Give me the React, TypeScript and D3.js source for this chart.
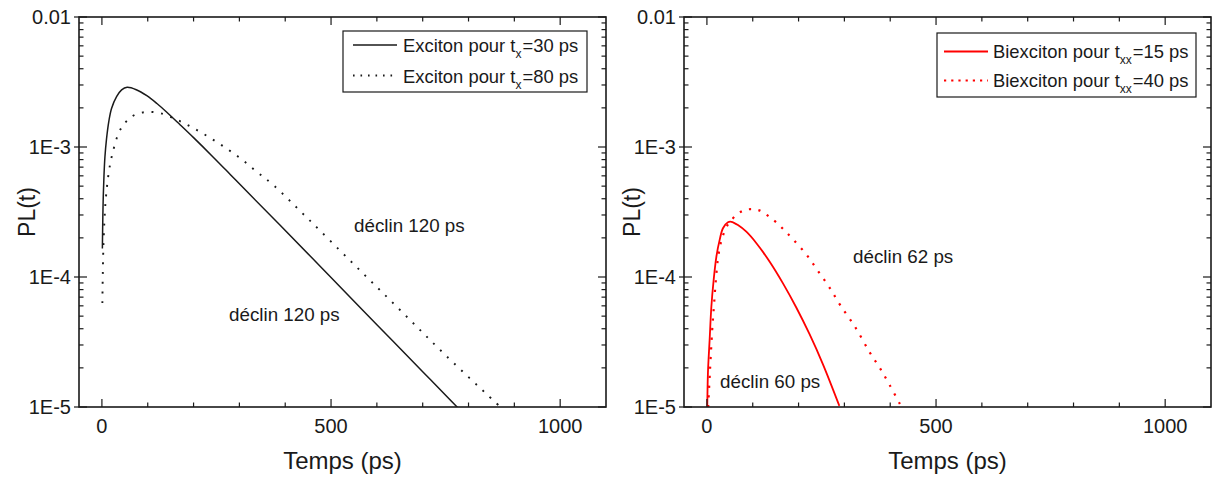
import React from 'react';
import * as d3 from 'd3';

// ---------- data ----------
const xMajorTicks = [0, 500, 1000];
const xMinorTicks = [100, 200, 300, 400, 600, 700, 800, 900];
const yMajorTicks = [1e-2, 1e-3, 1e-4, 1e-5];
const yTickLabels = ['0.01', '1E-3', '1E-4', '1E-5'];

// Exciton, rise 30 ps (solid black)
const excitonT30Time = [1, 2, 3, 4.5, 6.5, 10, 15, 21, 32, 43, 55, 75, 98, 120, 141, 170, 200, 243, 280, 316, 389, 500, 600, 700, 775, 800];
const excitonT30PL = [1.66e-4, 2.9e-4, 4.2e-4, 6.0e-4, 8.3e-4, 1.15e-3, 1.57e-3, 1.98e-3, 2.44e-3, 2.75e-3, 2.88e-3, 2.76e-3, 2.48e-3, 2.16e-3, 1.86e-3, 1.49e-3, 1.18e-3, 8.35e-4, 6.15e-4, 4.56e-4, 2.5e-4, 9.9e-5, 4.3e-5, 1.87e-5, 1.0e-5, 8.1e-6];

// Exciton, rise 80 ps (dotted black)
const excitonT80Time = [1, 2, 3, 5, 8, 12, 18, 25, 35, 45, 57, 72, 98, 127, 162, 196, 232, 269, 305, 338, 374, 450, 550, 650, 750, 875];
const excitonT80PL = [6.3e-5, 1.1e-4, 1.6e-4, 2.5e-4, 3.8e-4, 5.3e-4, 7.4e-4, 9.5e-4, 1.24e-3, 1.45e-3, 1.62e-3, 1.77e-3, 1.86e-3, 1.82e-3, 1.63e-3, 1.42e-3, 1.2e-3, 9.9e-4, 8.04e-4, 6.45e-4, 5.1e-4, 2.8e-4, 1.25e-4, 5.6e-5, 2.5e-5, 9.6e-6];

// Biexciton, 15 ps (solid red)
const biexT15Time = [0.5, 2.2, 5.9, 9.7, 14.7, 20.6, 27.8, 35, 45.9, 53.3, 67.7, 86, 108, 137, 166, 195, 224, 253, 289];
const biexT15PL = [8e-6, 1.82e-5, 3.27e-5, 5.91e-5, 9.48e-5, 1.43e-4, 1.93e-4, 2.37e-4, 2.64e-4, 2.66e-4, 2.51e-4, 2.23e-4, 1.82e-4, 1.31e-4, 8.93e-5, 5.83e-5, 3.63e-5, 2.14e-5, 1.02e-5];

// Biexciton, 40 ps (dotted red)
const biexT40Time = [2.7, 6.4, 11.5, 15.2, 19.5, 24.6, 32, 41.4, 50, 64.7, 79, 97.6, 115.6, 133.6, 152, 170, 188, 217.6, 242.6, 268.6, 290.6, 323, 355.6, 377.6, 398.6, 424.6];
const biexT40PL = [1.0e-5, 1.82e-5, 3.91e-5, 5.91e-5, 9.48e-5, 1.43e-4, 1.93e-4, 2.37e-4, 2.66e-4, 3.0e-4, 3.24e-4, 3.33e-4, 3.24e-4, 2.95e-4, 2.62e-4, 2.27e-4, 1.95e-4, 1.48e-4, 1.11e-4, 8.18e-5, 6.1e-5, 4.15e-5, 2.62e-5, 1.99e-5, 1.48e-5, 1.0e-5];

const xDomain = [-50, 1100];
const yDomain = [1e-5, 1e-2];

const FONT = '"Liberation Sans", Arial, Helvetica, sans-serif';
const INK = '#1a1a1a';
const RED = '#ff0000';

type Series = { time: number[]; pl: number[]; color: string; dotted: boolean };
type Legend = { box: [number, number, number, number]; sample: [number, number]; textX: number; rows: { y: number; base: number; pre: string; sub: string; post: string }[] };
type Note = { x: number; y: number; text: string };

const zip = (t: number[], v: number[]): [number, number][] => t.map((d, i) => [d, v[i]]);

const Panel: React.FC<{ id: string; x0: number; x1: number; series: Series[]; legend: Legend; notes: Note[] }> = ({ id, x0, x1, series, legend, notes }) => {
  const top = 17;
  const bottom = 407;
  const xs = d3.scaleLinear().domain(xDomain).range([x0, x1]);
  const ys = d3.scaleLog().domain(yDomain).range([bottom, top]);
  const line = d3
    .line<[number, number]>()
    .x((d) => xs(d[0]))
    .y((d) => ys(d[1]))
    .curve(d3.curveCatmullRom.alpha(0.5));

  const yMinor: number[] = [];
  for (const dec of [1e-5, 1e-4, 1e-3]) for (let m = 2; m <= 9; m++) yMinor.push(dec * m);

  const MAJ = 8;
  const MIN = 4.5;
  return (
    <g>
      <defs>
        <clipPath id={`clip-${id}`}>
          <rect x={x0} y={top} width={x1 - x0} height={bottom - top} />
        </clipPath>
      </defs>
      {/* curves */}
      <g clipPath={`url(#clip-${id})`}>
        {series.map((s, i) => (
          <path
            key={i}
            d={line(zip(s.time, s.pl)) || ''}
            fill="none"
            stroke={s.color}
            strokeWidth={s.dotted ? (s.color === RED ? 2.2 : 1.9) : s.color === RED ? 1.8 : 1.5}
            strokeDasharray={s.dotted ? (s.color === RED ? '2.2 7.4' : '1.9 7.8') : undefined}
          />
        ))}
      </g>
      {/* frame */}
      <rect x={x0} y={top} width={x1 - x0} height={bottom - top} fill="none" stroke={INK} strokeWidth={1.6} />
      {/* x ticks bottom & top */}
      {xMajorTicks.map((t) => (
        <g key={`xm${t}`}>
          <line x1={xs(t)} x2={xs(t)} y1={bottom} y2={bottom - MAJ} stroke={INK} strokeWidth={1.2} />
          <line x1={xs(t)} x2={xs(t)} y1={top} y2={top + MAJ} stroke={INK} strokeWidth={1.2} />
          <text x={xs(t)} y={433} textAnchor="middle" fontSize={20} fill={INK} fontFamily={FONT}>
            {t}
          </text>
        </g>
      ))}
      {xMinorTicks.map((t) => (
        <g key={`xn${t}`}>
          <line x1={xs(t)} x2={xs(t)} y1={bottom} y2={bottom - MIN} stroke={INK} strokeWidth={1.2} />
          <line x1={xs(t)} x2={xs(t)} y1={top} y2={top + MIN} stroke={INK} strokeWidth={1.2} />
        </g>
      ))}
      {/* y ticks left & right */}
      {yMajorTicks.map((v, i) => (
        <g key={`ym${i}`}>
          <line x1={x0 - 5} x2={x0 + MAJ} y1={ys(v)} y2={ys(v)} stroke={INK} strokeWidth={1.2} />
          <line x1={x1} x2={x1 - MAJ} y1={ys(v)} y2={ys(v)} stroke={INK} strokeWidth={1.2} />
          <text x={x0 - 8} y={ys(v)} dy="0.36em" textAnchor="end" fontSize={20} fill={INK} fontFamily={FONT}>
            {yTickLabels[i]}
          </text>
        </g>
      ))}
      {yMinor.map((v, i) => (
        <g key={`yn${i}`}>
          <line x1={x0} x2={x0 + MIN} y1={ys(v)} y2={ys(v)} stroke={INK} strokeWidth={1.2} />
          <line x1={x1} x2={x1 - MIN} y1={ys(v)} y2={ys(v)} stroke={INK} strokeWidth={1.2} />
        </g>
      ))}
      {/* axis titles */}
      <text x={(x0 + x1) / 2} y={469} textAnchor="middle" fontSize={24} fill={INK} fontFamily={FONT}>
        Temps (ps)
      </text>
      <text
        transform={`translate(${x0 - 52},${(top + bottom) / 2}) rotate(-90)`}
        dy="0.36em"
        textAnchor="middle"
        fontSize={23}
        fill={INK}
        fontFamily={FONT}
      >
        PL(t)
      </text>
      {/* annotations */}
      {notes.map((n, i) => (
        <text key={`n${i}`} x={n.x} y={n.y} fontSize={18.8} fill={INK} fontFamily={FONT}>
          {n.text}
        </text>
      ))}
      {/* legend */}
      <rect
        x={legend.box[0]}
        y={legend.box[1]}
        width={legend.box[2]}
        height={legend.box[3]}
        fill="#fff"
        stroke={INK}
        strokeWidth={1.2}
      />
      {legend.rows.map((r, i) => {
        const s = series[i];
        return (
          <g key={`l${i}`}>
            <line
              x1={legend.sample[0]}
              x2={legend.sample[1]}
              y1={r.y}
              y2={r.y}
              stroke={s.color}
              strokeWidth={s.dotted ? (s.color === RED ? 2.2 : 1.9) : s.color === RED ? 1.8 : 1.5}
              strokeDasharray={s.dotted ? (s.color === RED ? '2.2 5' : '1.6 5.9') : undefined}
            />
            <text x={legend.textX} y={r.base} fontSize={18.4} fill={INK} fontFamily={FONT}>
              <tspan>{r.pre}</tspan>
              <tspan fontSize={12} dy={6}>
                {r.sub}
              </tspan>
              <tspan dy={-6} dx={1}>
                {r.post}
              </tspan>
            </text>
          </g>
        );
      })}
    </g>
  );
};

export default function App() {
  const leftSeries: Series[] = [
    { time: excitonT30Time, pl: excitonT30PL, color: INK, dotted: false },
    { time: excitonT80Time, pl: excitonT80PL, color: INK, dotted: true },
  ];
  const rightSeries: Series[] = [
    { time: biexT15Time, pl: biexT15PL, color: RED, dotted: false },
    { time: biexT40Time, pl: biexT40PL, color: RED, dotted: true },
  ];
  return (
    <svg
      width={1215}
      height={478}
      viewBox="0 0 1215 478"
      style={{ position: 'absolute', left: 0, top: 0, background: '#fff' }}
    >
      <rect width={1215} height={478} fill="#fff" />
      <Panel
        id="left"
        x0={79}
        x1={606}
        series={leftSeries}
        legend={{
          box: [343, 31, 244, 61],
          sample: [353, 397],
          textX: 403,
          rows: [
            { y: 45, base: 51.5, pre: 'Exciton pour t', sub: 'x', post: '=30 ps' },
            { y: 75.5, base: 82.5, pre: 'Exciton pour t', sub: 'x', post: '=80 ps' },
          ],
        }}
        notes={[
          { x: 354, y: 232, text: 'déclin 120 ps' },
          { x: 229, y: 321, text: 'déclin 120 ps' },
        ]}
      />
      <Panel
        id="right"
        x0={684}
        x1={1211}
        series={rightSeries}
        legend={{
          box: [937, 33, 259, 64],
          sample: [944, 988],
          textX: 993,
          rows: [
            { y: 51.5, base: 58, pre: 'Biexciton pour t', sub: 'xx', post: '=15 ps' },
            { y: 80.5, base: 86.5, pre: 'Biexciton pour t', sub: 'xx', post: '=40 ps' },
          ],
        }}
        notes={[
          { x: 853, y: 263, text: 'déclin 62 ps' },
          { x: 720, y: 388, text: 'déclin 60 ps' },
        ]}
      />
    </svg>
  );
}
